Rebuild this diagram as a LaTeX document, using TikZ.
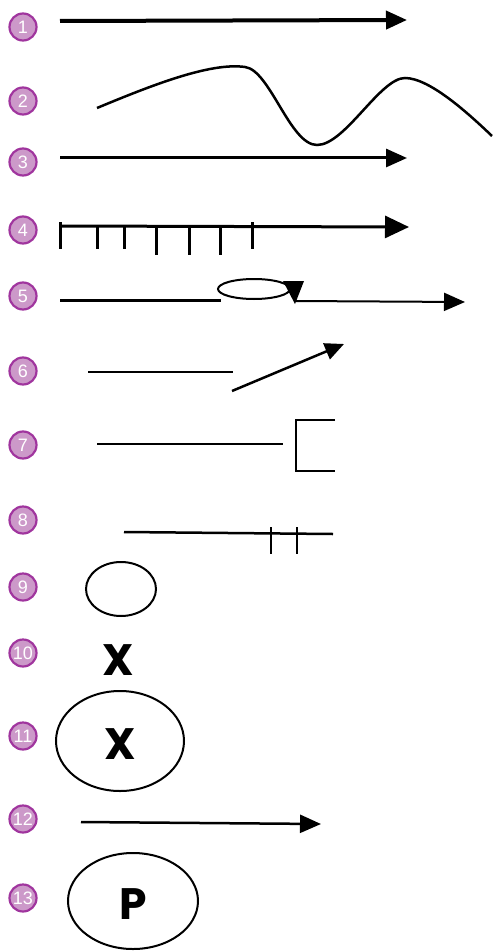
\documentclass[tikz,border=0pt]{standalone}
\usepackage{fontspec}
\setmainfont{Liberation Sans}
\newfontfamily\letterfont{Poppins}
\usetikzlibrary{arrows.meta,shapes.geometric}
\definecolor{badgefill}{HTML}{CC99C9}
\definecolor{badgeline}{HTML}{A0359E}
\begin{document}
\begin{tikzpicture}[x=1pt,y=-1pt,
  badge/.style={circle,fill=badgefill,draw=badgeline,line width=2.2pt,minimum size=27pt,inner sep=0pt,text=white,font=\fontsize{18}{18}\selectfont},
  ln/.style={line width=2.5pt,line cap=butt},
  tip/.style={-{Triangle[length=21pt,width=18pt]}},
  bigletter/.style={font=\letterfont\fontsize{44}{44}\selectfont\bfseries,inner sep=0pt},
  oval/.style={ellipse,draw,line width=2pt,inner sep=0pt}]
\useasboundingbox (0,0) rectangle (496,952);
% badges
\foreach \n/\y in {1/27,2/101,3/162,4/230,5/296,6/371,7/445,8/520,9/587,10/653,11/736,12/819,13/898}
  \node[badge] (b\n) at (23,\y) {\n};
% 1
\coordinate (a1) at (60,21); \coordinate (z1) at (407,20);
\draw[line width=4pt,tip] (a1) -- (z1);
% 2
\coordinate (a2) at (97,108); \coordinate (p2) at (245,67); \coordinate (t2) at (317,145);
\coordinate (q2) at (405,78); \coordinate (z2) at (492,136);
\draw[ln] (a2) .. controls (150,86) and (210,62) .. (p2)
  .. controls (270,70) and (290,145) .. (t2)
  .. controls (345,145) and (380,78) .. (q2)
  .. controls (430,78) and (470,115) .. (z2);
% 3
\coordinate (a3) at (60,158); \coordinate (z3) at (407,158);
\draw[line width=3pt,tip] (a3) -- (z3);
% 4
\coordinate (a4) at (60,226); \coordinate (z4) at (409,227);
\draw[line width=3pt,-{Triangle[length=24pt,width=22pt]}] (a4) -- (z4);
\draw[line width=3pt] (60,222) -- (60,249);
\draw[line width=3pt] (252,222) -- (252,249);
\foreach \x/\b in {97/249,124/249,156/255,189/255,220/255}
  \draw[line width=3pt] (\x,226) -- (\x,\b);
% 5
\coordinate (a5) at (60,300); \coordinate (m5) at (221,300);
\draw[line width=3pt] (a5) -- (m5);
\node[ellipse,draw,line width=2pt,minimum width=72pt,minimum height=20pt,inner sep=0pt] (e5) at (254,289) {};
\fill (283,281) -- (304,281) -- (295,304) -- cycle;
\coordinate (s5) at (295,301); \coordinate (z5) at (465,302);
\draw[line width=2pt,tip] (s5) -- (z5);
% 6
\coordinate (a6) at (88,372); \coordinate (m6) at (233,372);
\draw[ln] (a6) -- (m6);
\coordinate (s6) at (232,391); \coordinate (z6) at (344,344);
\draw[ln,-{Triangle[length=19pt,width=17pt]}] (s6) -- (z6);
% 7
\coordinate (a7) at (97,444); \coordinate (m7) at (283,444);
\draw[ln] (a7) -- (m7);
\draw[line width=2pt] (335,420) -- (296,420) -- (296,471) -- (335,471);
% 8
\coordinate (a8) at (124,532); \coordinate (z8) at (333,534);
\draw[ln] (a8) -- (z8);
\draw[ln] (271,527) -- (271,554);
\draw[ln] (297,527) -- (297,554);
% 9
\node[oval,minimum width=70pt,minimum height=54pt] (e9) at (121,589) {};
% 10
\node[bigletter] (x10) at (118,660) {X};
% 11
\node[oval,minimum width=128pt,minimum height=100pt] (e11) at (120,741) {};
\node[bigletter] (x11) at (120,744) {X};
% 12
\coordinate (a12) at (81,822); \coordinate (z12) at (321,824);
\draw[ln,tip] (a12) -- (z12);
% 13
\node[oval,minimum width=130pt,minimum height=96pt] (e13) at (133,901) {};
\node[bigletter] (p13) at (133,904) {P};
\end{tikzpicture}
\end{document}
